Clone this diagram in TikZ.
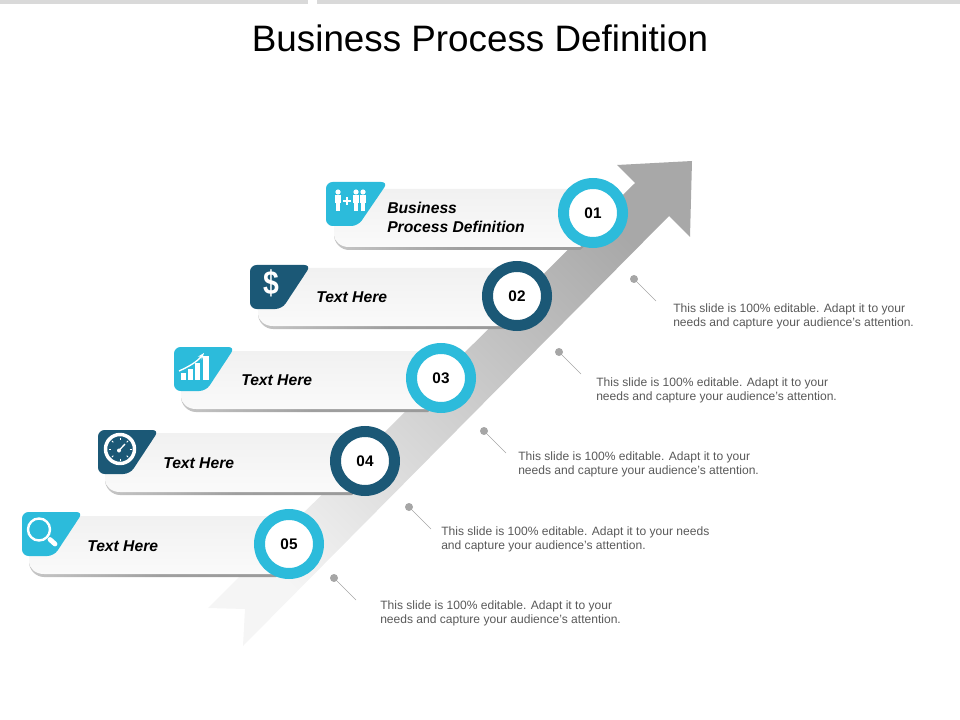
\documentclass[tikz,border=0pt]{standalone}
\usepackage{fontspec}
\setmainfont{Liberation Sans}
\usetikzlibrary{arrows.meta,positioning,calc}
\definecolor{barcyan}{HTML}{2CBBDB}
\definecolor{bardark}{HTML}{1B5876}
\definecolor{bartop}{HTML}{D9D9D9}
\definecolor{notegray}{HTML}{595959}
\definecolor{pingray}{HTML}{A6A6A6}
\tikzset{
    ringnode/.style={circle, draw, line width=8.25pt, fill=white, minimum size=52.5pt-8.25pt, inner sep=0pt, font=\fontsize{11.5pt}{12pt}\selectfont\bfseries},
    labelnode/.style={anchor=west, align=left, inner sep=0pt, font=\fontsize{11.75pt}{14.2pt}\selectfont\bfseries\itshape},
    notenode/.style={anchor=west, align=left, inner sep=0pt, text=notegray, font=\fontsize{9.05pt}{10.5pt}\selectfont},
    pindot/.style={circle, fill=pingray, minimum size=6pt, inner sep=0pt},
    pinline/.style={draw=pingray, line width=0.5pt},
    iconline/.style={draw=white, line width=1.8pt}
}
\begin{document}
\begin{tikzpicture}[x=0.75pt, y=-0.75pt]
    \useasboundingbox (0,0) rectangle (960,720);
    % top strips and title
    \fill[bartop] (0,0) rectangle (308,4);
    \fill[bartop] (317,0) rectangle (960,4);
    \node[inner sep=0pt, font=\fontsize{27.6pt}{30pt}\selectfont] (title) at (480,38) {Business Process Definition};

    % big arrow
    \shade[bottom color=gray!8, top color=gray!68, shading angle=-45]
        (692,161) -- (690,237) -- (669,216) -- (243,646) -- (245,609) -- (208,608) -- (635,183) -- (617,165) -- cycle;

    % bars: left end, right end, top, bottom
    \foreach \bl/\br/\bt/\bb in {334/593/189/247, 258/517/268/326, 181/441/351/409, 105/365/433/492, 29/289/516/574} {
        \shade[left color=gray!45, right color=gray!80, middle color=gray!75]
            (\bl,\bb-20) -- (\bl,\bb-12) .. controls (\bl,\bb-4) and (\bl+7,\bb+3) .. (\bl+15,\bb+3) -- (\br-13,\bb+3) -- (\br,\bb-8) -- cycle;
        \shade[top color=gray!11, bottom color=gray!4]
            (\bl,\bt) -- (\bl,\bb-13) .. controls (\bl,\bb-5) and (\bl+7,\bb) .. (\bl+15,\bb) -- (\br-13,\bb) -- (\br,\bb-10) -- (\br,\bt) -- cycle;
    }

    % icon tabs
    \fill[barcyan, rounded corners=5pt] (326,182) -- (388,182) -- (358,226) -- (326,226) -- cycle;
    \fill[bardark, rounded corners=5pt] (250,265) -- (311,265) -- (282,309) -- (250,309) -- cycle;
    \fill[barcyan, rounded corners=5pt] (174,347) -- (235,347) -- (206,391) -- (174,391) -- cycle;
    \fill[bardark, rounded corners=5pt] (98,430) -- (159,430) -- (130,474) -- (98,474) -- cycle;
    \fill[barcyan, rounded corners=5pt] (22,512) -- (83,512) -- (54,556) -- (22,556) -- cycle;

    % people icon
    \foreach \px in {338,356,363} {
        \fill[white] (\px,192) circle (2.6);
        \fill[white] (\px-2.9,195.5) rectangle (\px+2.9,203);
        \fill[white] (\px-2.4,203) rectangle (\px-0.4,211);
        \fill[white] (\px+0.4,203) rectangle (\px+2.4,211);
    }
    \draw[white, line width=1pt] (343,201) -- (351,201);
    \draw[white, line width=1pt] (347,197) -- (347,205);

    % dollar icon
    \node[inner sep=0pt, text=white, xscale=0.85, font=\fontsize{25pt}{26pt}\selectfont\bfseries] (dollar) at (271,283) {\$};

    % chart icon
    \fill[white] (181,373) rectangle (186,380);
    \fill[white] (188,369) rectangle (193,380);
    \fill[white] (195,363) rectangle (200,380);
    \fill[white] (203,356) rectangle (209,380);
    \draw[white, line width=1pt, -{Stealth[length=5pt]}] (179,371) .. controls (188,367) and (197,362) .. (204,353);

    % gauge icon
    \draw[iconline, line width=2.6pt] (120,449) circle (14.5);
    \foreach \a in {0,45,...,315} {
        \draw[white, line width=0.6pt] ($(120,449)+(\a:9.5)$) -- ($(120,449)+(\a:11.5)$);
    }
    \draw[white, line width=1pt] (118.5,451) -- (125,444);
    \fill[white] (119,450.5) circle (2);

    % magnifier icon
    \draw[iconline] (39,529.5) circle (11);
    \draw[white, line width=3.6pt, line cap=round] (50,539.5) -- (55,544);

    % rings
    \node[ringnode, draw=barcyan] (ring1) at (593,213) {01};
    \node[ringnode, draw=bardark] (ring2) at (517,296) {02};
    \node[ringnode, draw=barcyan] (ring3) at (441,378) {03};
    \node[ringnode, draw=bardark] (ring4) at (365,461) {04};
    \node[ringnode, draw=barcyan] (ring5) at (289,544) {05};

    % bar labels
    \node[labelnode] (label1) at (387,217.5) {Business\\Process Definition};
    \node[labelnode] (label2) at (316,297) {Text Here};
    \node[labelnode] (label3) at (241,380) {Text Here};
    \node[labelnode] (label4) at (163,463) {Text Here};
    \node[labelnode] (label5) at (87,546) {Text Here};

    % notes with their pins
    \node[pindot] (pin1) at (634,279) {};
    \node[pindot] (pin2) at (559,352) {};
    \node[pindot] (pin3) at (484,431) {};
    \node[pindot] (pin4) at (409,507) {};
    \node[pindot] (pin5) at (334,578) {};
    \coordinate (end1) at (656,301);
    \coordinate (end2) at (581,374);
    \coordinate (end3) at (506,453);
    \coordinate (end4) at (431,529);
    \coordinate (end5) at (356,600);
    \draw[pinline] (pin1) -- (end1);
    \draw[pinline] (pin2) -- (end2);
    \draw[pinline] (pin3) -- (end3);
    \draw[pinline] (pin4) -- (end4);
    \draw[pinline] (pin5) -- (end5);
    \node[notenode] (note1) at (673,316) {This slide is 100\% editable. Adapt it to your\\needs and capture your audience's attention.};
    \node[notenode] (note2) at (596,390) {This slide is 100\% editable. Adapt it to your\\needs and capture your audience's attention.};
    \node[notenode] (note3) at (518,464) {This slide is 100\% editable. Adapt it to your\\needs and capture your audience's attention.};
    \node[notenode] (note4) at (441,539) {This slide is 100\% editable. Adapt it to your needs\\and capture your audience's attention.};
    \node[notenode] (note5) at (380,613) {This slide is 100\% editable. Adapt it to your\\needs and capture your audience's attention.};
\end{tikzpicture}
\end{document}
